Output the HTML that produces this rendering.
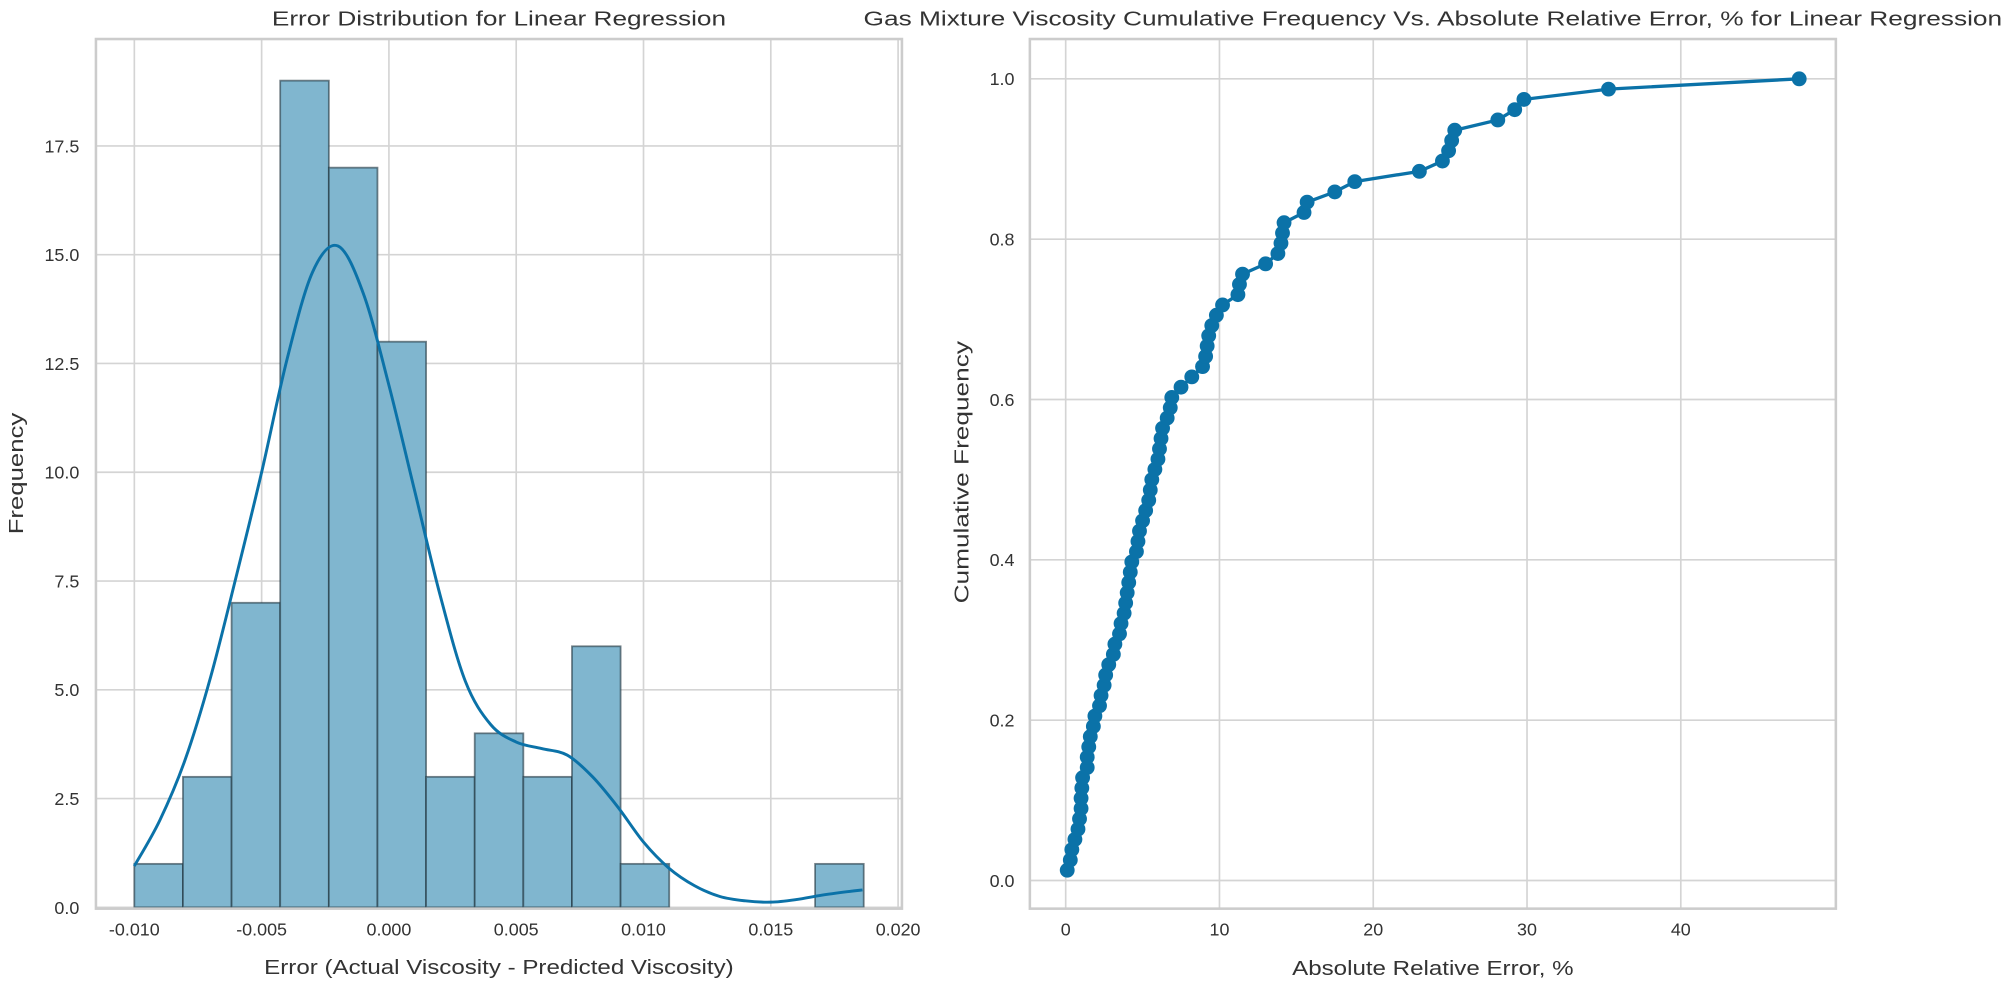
<!DOCTYPE html>
<html><head><meta charset="utf-8"><style>
html,body{margin:0;padding:0;background:#fff;}
svg{display:block;font-family:"Liberation Sans",Arial,sans-serif;}
</style></head><body>
<svg id="fig" width="2006" height="988" viewBox="0 0 1568 772" preserveAspectRatio="none" xmlns="http://www.w3.org/2000/svg">
<rect x="0" y="0" width="1568" height="772" fill="#fff"/>
<g id="left"></g>
<g id="right"></g>
</svg>
<script>
// ---- Left chart data ----
const binStart = -0.0100;
const binEnd = 0.01865;
const binCounts = [1,3,7,19,17,13,3,4,3,6,1,0,0,0,1];
const kdeX = [-0.010,-0.009,-0.008,-0.007,-0.006,-0.005,-0.004,-0.003,-0.002,-0.001,0.000,0.001,0.002,0.003,0.004,0.005,0.006,0.007,0.008,0.009,0.010,0.011,0.012,0.013,0.014,0.015,0.016,0.017,0.018,0.0186];
const kdeY = [0.95,2.0,3.4,5.3,7.6,10.0,12.6,14.6,15.2,14.1,12.0,9.6,7.2,5.2,4.2,3.8,3.65,3.5,3.0,2.3,1.5,0.9,0.5,0.25,0.15,0.12,0.18,0.28,0.36,0.4];
const leftXTicks = [-0.010,-0.005,0.000,0.005,0.010,0.015,0.020];
const leftXTickLabels = ["-0.010","-0.005","0.000","0.005","0.010","0.015","0.020"];
const leftYTicks = [0,2.5,5,7.5,10,12.5,15,17.5];
const leftYTickLabels = ["0.0","2.5","5.0","7.5","10.0","12.5","15.0","17.5"];
// ---- Right chart data ----
const absRelError = [0.1,0.3,0.4,0.6,0.8,0.9,1.0,1.0,1.05,1.1,1.4,1.4,1.5,1.6,1.8,1.9,2.2,2.3,2.5,2.6,2.8,3.1,3.2,3.5,3.6,3.8,3.9,4.0,4.1,4.2,4.3,4.6,4.7,4.8,5.0,5.2,5.4,5.5,5.6,5.8,6.0,6.1,6.2,6.3,6.6,6.8,6.9,7.5,8.2,8.9,9.1,9.2,9.3,9.5,9.8,10.2,11.2,11.3,11.5,13.0,13.8,14.0,14.1,14.2,15.5,15.7,17.5,18.8,23.0,24.5,24.9,25.1,25.3,28.1,29.2,29.8,35.3,47.7];
const rightXTicks = [0,10,20,30,40];
const rightXTickLabels = ["0","10","20","30","40"];
const rightYTicks = [0,0.2,0.4,0.6,0.8,1.0];
const rightYTickLabels = ["0.0","0.2","0.4","0.6","0.8","1.0"];

const NS="http://www.w3.org/2000/svg";
function mk(parent,tag,attrs,text){const e=document.createElementNS(NS,tag);for(const k in attrs)e.setAttribute(k,attrs[k]);if(text!==undefined)e.textContent=text;parent.appendChild(e);return e;}
const GRID="#d4d4d4", SPINE="#cccccc", TXT="#333333", BLUE="#0b72a8";

// ---- Left chart ----
(function(){
 const g=document.getElementById('left');
 const L=75,R=705,T=30.5,B=710;
 const lx=v=>304+v*19900;
 const ly=v=>709-v*34;
 leftYTicks.forEach((t,i)=>{
  const ln=mk(g,'line',{x1:L,x2:R,y1:ly(t),y2:ly(t),stroke:GRID,'stroke-width':1.3});
  
  
  const tx=mk(g,'text',{x:62,y:ly(t)+5,'text-anchor':'end','font-size':14,fill:TXT},leftYTickLabels[i]);
  
  
 });
 leftXTicks.forEach((t,i)=>{
  const ln=mk(g,'line',{x1:lx(t),x2:lx(t),y1:T,y2:B,stroke:GRID,'stroke-width':1.3});
  
  
  const tx=mk(g,'text',{x:lx(t),y:731,'text-anchor':'middle','font-size':14,fill:TXT},leftXTickLabels[i]);
  
  
 });
 const w=(binEnd-binStart)/binCounts.length;
 binCounts.forEach((c,i)=>{
  const x0=lx(binStart+i*w), x1=lx(binStart+(i+1)*w);
  const r=mk(g,'rect',{x:x0,y:ly(c),width:x1-x0,height:ly(0)-ly(c),fill:'#80b6cf','stroke':'rgba(30,50,60,0.6)','stroke-width':1.4});
  
  
 });
 const pts=kdeX.map((x,i)=>[lx(x),ly(kdeY[i])]);
 let d='M'+pts[0][0]+','+pts[0][1];
 for(let i=0;i<pts.length-1;i++){
  const p0=pts[Math.max(0,i-1)],p1=pts[i],p2=pts[i+1],p3=pts[Math.min(pts.length-1,i+2)];
  const c1=[p1[0]+(p2[0]-p0[0])/6,p1[1]+(p2[1]-p0[1])/6];
  const c2=[p2[0]-(p3[0]-p1[0])/6,p2[1]-(p3[1]-p1[1])/6];
  d+=' C'+c1[0]+','+c1[1]+' '+c2[0]+','+c2[1]+' '+p2[0]+','+p2[1];
 }
 const kde=mk(g,'path',{d:d,fill:'none',stroke:BLUE,'stroke-width':2.3});
 
 
 const fr=mk(g,'rect',{x:L,y:T,width:R-L,height:B-T,fill:'none',stroke:SPINE,'stroke-width':2});
 
 
 const ti=mk(g,'text',{x:390,y:20,'text-anchor':'middle','font-size':16,fill:TXT,textLength:355,lengthAdjust:'spacingAndGlyphs'},'Error Distribution for Linear Regression');
 
 
 const xl=mk(g,'text',{x:390,y:761,'text-anchor':'middle','font-size':16,fill:TXT,textLength:367,lengthAdjust:'spacingAndGlyphs'},'Error (Actual Viscosity - Predicted Viscosity)');
 
 
 const yl=mk(g,'text',{x:0,y:0,transform:'translate(18,370) rotate(-90)','text-anchor':'middle','font-size':16,fill:TXT,textLength:95,lengthAdjust:'spacingAndGlyphs'},'Frequency');
 
 
})();

// ---- Right chart ----
(function(){
 const g=document.getElementById('right');
 const L=805,R=1435,T=30.5,B=710;
 const rx=v=>833+v*12.02;
 const ry=v=>688-v*626.4;
 rightYTicks.forEach((t,i)=>{
  const ln=mk(g,'line',{x1:L,x2:R,y1:ry(t),y2:ry(t),stroke:GRID,'stroke-width':1.3});
  
  
  const tx=mk(g,'text',{x:793,y:ry(t)+5,'text-anchor':'end','font-size':14,fill:TXT},rightYTickLabels[i]);
  
  
 });
 rightXTicks.forEach((t,i)=>{
  const ln=mk(g,'line',{x1:rx(t),x2:rx(t),y1:T,y2:B,stroke:GRID,'stroke-width':1.3});
  
  
  const tx=mk(g,'text',{x:rx(t),y:731,'text-anchor':'middle','font-size':14,fill:TXT},rightXTickLabels[i]);
  
  
 });
 const n=absRelError.length;
 const pts=absRelError.map((v,i)=>[rx(v),ry((i+1)/n)]);
 const pl=mk(g,'polyline',{points:pts.map(p=>p.join(',')).join(' '),fill:'none',stroke:BLUE,'stroke-width':2.6});
 
 
 pts.forEach(p=>{
  const c=mk(g,'circle',{cx:p[0],cy:p[1],r:5.8,fill:BLUE});
  
  
 });
 const fr=mk(g,'rect',{x:L,y:T,width:R-L,height:B-T,fill:'none',stroke:SPINE,'stroke-width':2});
 
 
 const ti=mk(g,'text',{x:1120,y:20,'text-anchor':'middle','font-size':16,fill:TXT,textLength:890,lengthAdjust:'spacingAndGlyphs'},'Gas Mixture Viscosity Cumulative Frequency Vs. Absolute Relative Error, % for Linear Regression');
 
 
 const xl=mk(g,'text',{x:1120,y:762,'text-anchor':'middle','font-size':16,fill:TXT,textLength:220,lengthAdjust:'spacingAndGlyphs'},'Absolute Relative Error, %');
 
 
 const yl=mk(g,'text',{x:0,y:0,transform:'translate(757,369) rotate(-90)','text-anchor':'middle','font-size':16,fill:TXT,textLength:205,lengthAdjust:'spacingAndGlyphs'},'Cumulative Frequency');
 
 
})();
</script>
</body></html>
